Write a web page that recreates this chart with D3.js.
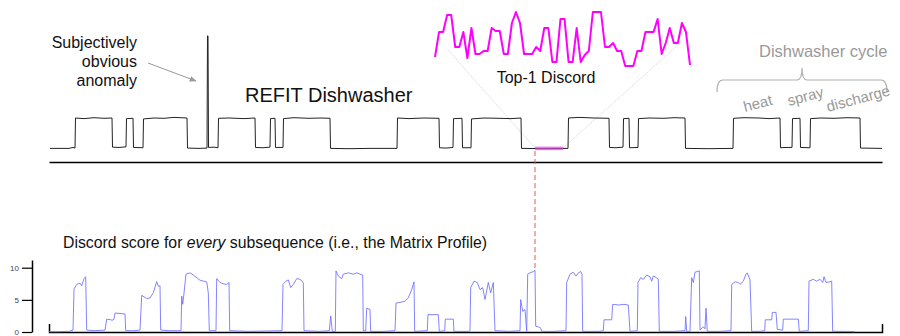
<!DOCTYPE html>
<html>
<head>
<meta charset="utf-8">
<script src="https://cdn.jsdelivr.net/npm/d3@7"></script>
<style>
  body { margin: 0; background: #fff; }
  svg { display: block; font-family: "Liberation Sans", Arial, sans-serif; }
</style>
</head>
<body>
<svg id="chart" width="900" height="336"></svg>
<script>
// REFIT dishwasher power (normalised), [sample, value]
var powerSignal = [
  [1,0.02],[20,0.02],[24,0.05],[26,0.03],
  [26.5,1.0],[35,0.98],[45,1.01],[55,0.99],[63,1.0],
  [63.5,0.06],[70,0.05],[77,0.07],
  [77.5,0.98],[84,0.99],
  [84.5,0.05],[94,0.04],
  [94.5,0.97],[105,1.0],[115,0.99],[125,1.02],[138,1.0],
  [138.5,0.03],[150,0.02],[158,0.03],
  [158.5,3.65],[159,3.65],[159.5,0.05],
  [165,0.06],[169,0.04],
  [169.5,0.99],[180,1.0],[195,0.98],[206,1.0],
  [206.5,0.05],[214,0.04],[221,0.06],
  [221.5,0.98],[226,0.99],
  [226.5,0.05],[234,0.05],
  [234.5,0.98],[245,1.01],[260,0.99],[272,1.0],[281,0.99],
  [281.5,0.02],[300,0.01],[320,0.02],[348,0.02],
  [348.5,1.0],[360,0.98],[375,1.0],[390,0.99],
  [390.5,0.04],[397,0.03],[404,0.05],
  [404.5,0.98],[413,0.99],
  [413.5,0.04],[422,0.04],
  [422.5,0.97],[435,1.0],[450,0.99],[462,0.98],[472,1.0],
  [472.5,0.02],[495,0.01],[519,0.02],
  [519.5,1.0],[530,1.02],[545,1.0],[560,0.99],
  [560.5,0.05],[567,0.04],[574,0.06],
  [574.5,0.98],[580,0.99],
  [580.5,0.04],[589,0.05],
  [589.5,0.98],[600,1.0],[615,0.99],[625,1.01],[636,1.0],
  [636.5,0.02],[660,0.01],[684,0.02],
  [684.5,0.99],[695,1.01],[710,1.0],[720,0.98],[731,1.0],
  [731.5,0.04],[737,0.05],[743,0.05],
  [743.5,0.98],[751,0.99],
  [751.5,0.05],[761,0.04],
  [761.5,0.98],[772,1.0],[785,0.99],[798,1.01],[811,1.0],
  [811.5,0.03],[833,0.02]
];

// matrix profile, [sample, discord score]
var matrixProfile = [
  [0,0.05],[10,0.05],[20,0.1],[24,0.3],
  [25,6.7],[27.7,7.4],[31,7.6],[32.7,7.2],[35,8.3],[36.7,8.6],[37.7,0.3],
  [45,0.2],[56,0.3],[57.7,2.0],[62,1.9],[63,1.8],[65,2.0],[66,2.95],[70,2.9],[76,2.8],[76.7,0.2],
  [85,0.2],[91,0.3],[92.7,5.7],[97.7,5.2],[101,5.3],[104.3,6.1],[107.7,7.85],[109.3,7.1],[111,7.2],[111.7,0.3],
  [120,0.2],[132,0.2],[132.7,5.6],[133.7,4.3],[134.7,5.6],[137,9.0],[141,9.2],[144.3,8.85],[151,8.05],[157.7,7.8],[159.3,6.1],[160.3,0.2],
  [167,0.2],[167.7,8.3],[171,7.7],[174.3,7.5],[177.7,7.4],[180,7.7],[180.7,0.2],
  [200,0.1],[233,0.2],[234,7.4],[237,7.9],[239.3,8.1],[241.7,6.9],[244.3,7.4],[247.7,8.3],[251,8.2],[254.3,7.7],[255,0.2],
  [270,0.1],[280.3,0.2],[281.7,2.5],[283.3,0.1],[286.3,0.1],
  [287,9.5],[289.3,8.7],[292.7,8.3],[294.3,9.0],[299.3,9.2],[304.3,9.0],[307.7,9.2],[313.7,8.85],[314.3,0.2],
  [316.7,0.2],[317.7,3.7],[321,3.5],[321.7,0.1],
  [335,0.1],[346,0.2],[347,4.5],[351,4.6],[356,4.8],[359.3,5.3],[362.7,6.6],[365,7.8],[365.7,0.1],
  [378.3,0.2],[379,2.7],[389.3,2.7],[390.3,0.1],[395.7,0.2],[396.3,2.0],[404.3,2.0],[405,0.1],
  [420,0.1],[421,0.2],[421.7,6.9],[425,7.9],[428.3,7.7],[431,6.6],[433.7,6.9],[436,5.05],[439.3,7.7],[441.7,6.1],[444.3,7.7],[446,0.2],
  [460,0.1],[471,0.2],[471.7,5.05],[473.7,3.2],[476,3.5],[477.7,0.1],[478.7,9.0],[481,9.2],[484.3,9.4],[486,9.6],[486.7,0.9],[489.3,0.8],[491.7,0.6],[492.7,0.1],
  [505,0.1],[517,0.2],[517.7,7.7],[521,9.0],[524.3,9.3],[527,8.7],[529.3,9.2],[531.7,9.4],[533,9.0],[533.7,0.1],
  [550,0.1],[554.3,0.2],[555,1.9],[562.7,1.9],[563.7,4.3],[570,4.2],[575,4.3],[579.3,4.2],[581,0.1],
  [588.3,0.2],[589,7.7],[591.7,8.45],[594.3,8.2],[597.7,8.85],[601,8.6],[602.7,7.9],[604.3,8.7],[606,8.6],[609.3,8.2],[610.3,0.1],
  [625,0.1],[636,0.2],[636.7,2.4],[637.7,0.1],[641,0.1],[642.7,8.45],[644.3,7.7],[646,9.3],[650.3,9.5],[651,0.3],[654.3,0.8],[656,0.5],[657,3.7],[658.3,0.1],
  [670,0.1],[682,0.2],[682.7,7.4],[686,7.8],[689.3,7.7],[691,7.4],[694.3,7.9],[697,9.0],[698.3,9.2],[701,8.1],[702.7,0.1],
  [710,0.1],[715.7,0.2],[716.3,1.9],[722.7,1.9],[723.3,3.05],[727,3.05],[728.3,0.4],[733.7,0.3],[734.3,2.0],[749.3,2.0],[750.3,0.1],
  [759.3,0.2],[760,7.9],[764.3,8.2],[767.7,7.9],[771,8.2],[773.7,7.7],[775,8.6],[777,7.7],[780.3,7.8],[782.7,7.9],[783.7,0.1],
  [795,0.1],[806,0.05]
];

// the top-1 discord subsequence, zoomed in
var discordValues = [
  13,38,38,55,55,23,23,38,12,42,16,16,19,19,42,39,39,16,16,47,58,47,16,16,
  16,23,19,42,42,8,8,51,51,8,8,42,8,15,19,58,58,58,23,23,27,19,19,4,4,4,
  19,19,38,38,38,51,16,27,42,27,27,47,38,5
];
var discordStart = 486, discordLength = 28;

var mpTicks = [0, 5, 10];
var cycleLabels = ["heat", "spray", "discharge"];

var svg = d3.select("#chart");

var x = d3.scaleLinear().domain([0, 833]).range([49, 882]);
var ySig = d3.scaleLinear().domain([0, 1]).range([149, 118]);
var yMP = d3.scaleLinear().domain([0, 11.2]).range([332, 260]);
var xIn = d3.scaleLinear().domain([0, discordValues.length - 1]).range([435, 690]);
var yIn = d3.scaleLinear().domain([0, 70]).range([70, 0]);

var sigLine = d3.line().x(d => x(d[0])).y(d => ySig(d[1]));
var mpLine = d3.line().x(d => x(d[0])).y(d => yMP(d[1]));

// zoom guide lines from the discord to the inset
var dEnd = discordStart + discordLength;
svg.append("g").selectAll("line")
  .data([[discordStart, 3, 21], [dEnd, 59.5, 23]])
  .enter().append("line")
  .attr("x1", d => x(d[0])).attr("y1", ySig(0) - 1)
  .attr("x2", d => xIn(d[1])).attr("y2", d => yIn(d[2]))
  .attr("stroke", "#c8c8c8").attr("stroke-width", 0.7)
  .attr("stroke-dasharray", "1.5,1");

// top axis line
svg.append("g").attr("transform", "translate(0,162)")
  .call(d3.axisBottom(x).ticks(0).tickSizeOuter(0))
  .select(".domain").attr("stroke", "#000").attr("stroke-width", 1.5);

svg.append("path").datum(powerSignal)
  .attr("fill", "none").attr("stroke", "#222").attr("stroke-width", 1)
  .attr("d", sigLine);

// highlight discord on the signal
svg.append("path")
  .datum([[discordStart, 0.02], [dEnd, 0.02]])
  .attr("fill", "none").attr("stroke", "#e040e0").attr("stroke-opacity", 0.7)
  .attr("stroke-width", 3.5)
  .attr("d", sigLine);

// inset
svg.append("path").datum(discordValues)
  .attr("fill", "none").attr("stroke", "#ff00ff").attr("stroke-width", 2)
  .attr("stroke-linejoin", "round")
  .attr("d", d3.line().x((d, i) => xIn(i)).y(d => yIn(d)));

svg.append("text").attr("x", 546).attr("y", 83).attr("text-anchor", "middle")
  .attr("font-size", 16).attr("fill", "#111").text("Top-1 Discord");

svg.append("text").attr("x", 245).attr("y", 102)
  .attr("font-size", 20).attr("fill", "#111").text("REFIT Dishwasher");

// anomaly annotation
svg.append("defs").append("marker").attr("id", "arr")
  .attr("viewBox", "0 0 10 10").attr("refX", 9).attr("refY", 5)
  .attr("markerWidth", 7).attr("markerHeight", 7).attr("orient", "auto")
  .append("path").attr("d", "M0,1L10,5L0,9z").attr("fill", "#999");

var ann = svg.append("text").attr("text-anchor", "end")
  .attr("font-size", 16).attr("fill", "#111");
["Subjectively", "obvious", "anomaly"].forEach((t, i) => {
  ann.append("tspan").attr("x", 137).attr("y", 48 + i * 19).text(t);
});
svg.append("line")
  .attr("x1", 148).attr("y1", 63).attr("x2", x(158) - 11).attr("y2", 81)
  .attr("stroke", "#999").attr("stroke-width", 1)
  .attr("marker-end", "url(#arr)");

// dishwasher cycle brace
var bx0 = x(668), bx1 = x(838), bm = (bx0 + bx1) / 2;
svg.append("path")
  .attr("d", "M" + bx0 + ",92 Q" + bx0 + ",80 " + (bx0 + 6) + ",80 L" + (bm - 5) + ",80 Q" + bm + ",80 " + bm + ",68"
    + " Q" + bm + ",80 " + (bm + 5) + ",80 L" + (bx1 - 6) + ",80 Q" + bx1 + ",80 " + bx1 + ",92")
  .attr("fill", "none").attr("stroke", "#b0b0b0").attr("stroke-width", 1.2);

svg.append("text").attr("x", 759).attr("y", 57)
  .attr("font-size", 16.5).attr("fill", "#999").text("Dishwasher cycle");

var lblPos = [[745, 112], [789, 106], [828, 112]];
svg.append("g").selectAll("text").data(cycleLabels).enter().append("text")
  .attr("transform", (d, i) => "translate(" + lblPos[i][0] + "," + lblPos[i][1] + ") rotate(-15)")
  .attr("font-size", 15).attr("fill", "#999").text(d => d);

// dashed line linking discord to its matrix profile peak
svg.append("line")
  .attr("x1", x(discordStart)).attr("x2", x(discordStart))
  .attr("y1", ySig(0) + 2).attr("y2", yMP(9.6))
  .attr("stroke", "#e85a5a").attr("stroke-width", 1)
  .attr("stroke-dasharray", "5,3");

// matrix profile
var title = svg.append("text").attr("x", 63).attr("y", 248)
  .attr("font-size", 15.8).attr("fill", "#111");
title.append("tspan").text("Discord score for ");
title.append("tspan").attr("font-style", "italic").text("every");
title.append("tspan").text(" subsequence (i.e., the Matrix Profile)");

var yAx = svg.append("g").attr("transform", "translate(32,0)")
  .call(d3.axisLeft(yMP).tickValues(mpTicks).tickSize(10).tickSizeOuter(0).tickPadding(3));
yAx.select(".domain").attr("stroke-width", 1.5);
yAx.selectAll(".tick line").attr("stroke-width", 1.2);
yAx.selectAll("text").attr("font-size", 8).attr("fill", "#444")
  .attr("font-family", "'Liberation Sans', Arial, sans-serif");

svg.append("g").attr("transform", "translate(0,332)")
  .call(d3.axisTop(x).ticks(0).tickSizeOuter(8))
  .select(".domain").attr("stroke", "#000").attr("stroke-width", 1.5);

svg.append("path").datum(matrixProfile)
  .attr("fill", "none").attr("stroke", "#6f6fff").attr("stroke-opacity", 0.85)
  .attr("stroke-width", 1)
  .attr("d", mpLine);
</script>
</body>
</html>
